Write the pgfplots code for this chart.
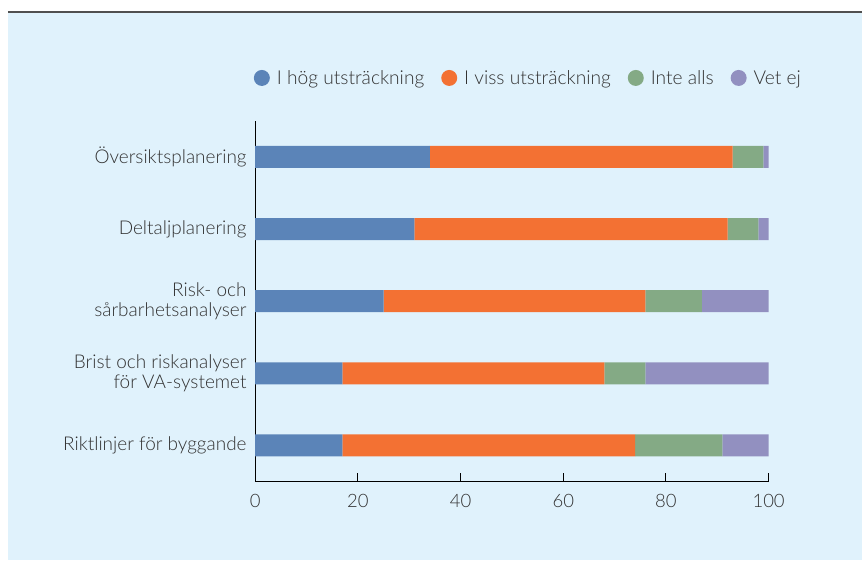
\documentclass[border=0pt]{standalone}
\usepackage{fontspec}
\setmainfont{Lato}[UprightFont=* Light]
\usepackage{pgfplots}
\pgfplotsset{compat=1.18}

\definecolor{panelbg}{RGB}{224,242,252}
\definecolor{topline}{RGB}{80,80,80}
\definecolor{txt}{RGB}{50,50,50}
\definecolor{cBlue}{RGB}{91,132,184}
\definecolor{cOrange}{RGB}{243,113,51}
\definecolor{cGreen}{RGB}{132,170,133}
\definecolor{cPurple}{RGB}{146,144,192}

\begin{document}
\begin{tikzpicture}[x=1pt,y=1pt]
  % page and light-blue panel
  \fill[white] (0,0) rectangle (863,561);
  \fill[panelbg] (8,0) rectangle (863,548);
  \draw[line width=2pt, topline] (8,549) -- (863,549);

  \begin{axis}[
    at={(255.5pt,79pt)}, anchor=south west,
    scale only axis, width=514pt, height=361pt,
    xbar stacked, bar width=22pt,
    xmin=0, xmax=100, ymin=-0.5, ymax=4.5,
    xtick={0,20,...,100},
    ytick={0,1,2,3,4},
    yticklabels={
      Riktlinjer för byggande,
      {Brist och riskanalyser\\för VA-systemet},
      {Risk- och\\sårbarhetsanalyser},
      Deltaljplanering,
      Översiktsplanering},
    axis x line*=bottom, axis y line*=left,
    axis line style={black, line width=1pt},
    tick align=inside, major tick length=8pt,
    xtick style={black, line width=1pt},
    ytick style={draw=none},
    /pgf/number format/assume math mode=true,
    xticklabel style={txt, font=\fontsize{18.5}{20}\selectfont,
      inner sep=0pt, yshift=-12.5pt},
    yticklabel style={txt, font=\fontsize{19}{19.5}\selectfont,
      align=right, inner sep=0pt, xshift=-8.5pt},
    legend style={draw=none, fill=none, legend columns=4,
      at={(axis description cs:-0.003,1.119)}, anchor=west,
      inner sep=0pt, text=txt, font=\fontsize{19.2}{20}\selectfont,
      nodes={inner sep=0pt},
      /tikz/every odd column/.append style={column sep=7pt},
      /tikz/every even column/.append style={column sep=17pt}},
    legend cell align=left,
    legend image code/.code={\fill[#1] (8pt,0pt) circle (8pt);},
  ]
    \addplot[fill=cBlue, draw=none] coordinates {(17,0) (17,1) (25,2) (31,3) (34,4)};
    \addplot[fill=cOrange, draw=none] coordinates {(57,0) (51,1) (51,2) (61,3) (59,4)};
    \addplot[fill=cGreen, draw=none] coordinates {(17,0) (8,1) (11,2) (6,3) (6,4)};
    \addplot[fill=cPurple, draw=none] coordinates {(9,0) (24,1) (13,2) (2,3) (1,4)};
    \legend{I hög utsträckning, I viss utsträckning, Inte alls, Vet ej}
  \end{axis}
\end{tikzpicture}
\end{document}
